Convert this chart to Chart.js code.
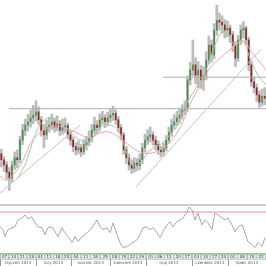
<!DOCTYPE html>
<html>
<head>
<meta charset="utf-8">
<script src="https://cdn.jsdelivr.net/npm/chart.js@4.4.0/dist/chart.umd.min.js"></script>
<style>
  html, body { margin: 0; padding: 0; background: #fff; }
</style>
</head>
<body>
<canvas id="wykres" width="266" height="266"></canvas>
<script>
'use strict';

// notowania dzienne (OHLC), kolejnosc od lewej
const openP = [4.125,4.116,4.108,4.097,4.088,4.108,4.119,4.116,4.146,4.161,
  4.169,4.174,4.180,4.184,4.189,4.177,4.161,4.154,4.165,4.169,
  4.174,4.166,4.171,4.161,4.165,4.168,4.154,4.146,4.136,4.131,
  4.134,4.128,4.139,4.143,4.149,4.161,4.169,4.165,4.177,4.180,
  4.174,4.180,4.184,4.187,4.177,4.165,4.154,4.131,4.119,4.108,
  4.103,4.111,4.107,4.116,4.134,4.146,4.151,4.154,4.146,4.139,
  4.131,4.128,4.134,4.146,4.158,4.169,4.174,4.180,4.184,4.192,
  4.195,4.238,4.253,4.261,4.245,4.253,4.238,4.245,4.268,4.291,
  4.276,4.314,4.329,4.326,4.322,4.314,4.317,4.307,4.291,4.271,
  4.299,4.314,4.317,4.299,4.261,4.235,4.226,4.215,4.204,4.213];
const highP = [4.132,4.121,4.113,4.104,4.114,4.128,4.131,4.152,4.170,4.178,
  4.185,4.192,4.199,4.206,4.197,4.182,4.170,4.176,4.181,4.186,
  4.180,4.183,4.176,4.178,4.180,4.172,4.160,4.151,4.142,4.145,
  4.140,4.147,4.152,4.160,4.170,4.181,4.176,4.186,4.190,4.185,
  4.189,4.193,4.198,4.192,4.182,4.170,4.158,4.136,4.125,4.116,
  4.119,4.118,4.125,4.141,4.155,4.162,4.166,4.159,4.152,4.145,
  4.137,4.142,4.153,4.166,4.178,4.185,4.190,4.194,4.200,4.206,
  4.244,4.265,4.299,4.272,4.266,4.260,4.258,4.281,4.305,4.299,
  4.324,4.352,4.340,4.336,4.330,4.328,4.322,4.312,4.296,4.306,
  4.322,4.327,4.320,4.303,4.266,4.243,4.232,4.221,4.224,4.226];
const lowP = [4.105,4.098,4.086,4.069,4.082,4.101,4.104,4.111,4.139,4.153,
  4.160,4.166,4.171,4.175,4.170,4.152,4.134,4.147,4.158,4.162,
  4.158,4.160,4.153,4.155,4.157,4.148,4.138,4.128,4.123,4.125,
  4.121,4.124,4.131,4.137,4.143,4.155,4.156,4.160,4.170,4.165,
  4.168,4.173,4.176,4.170,4.158,4.146,4.124,4.110,4.100,4.095,
  4.097,4.099,4.101,4.110,4.128,4.139,4.143,4.138,4.131,4.124,
  4.120,4.122,4.129,4.141,4.152,4.163,4.168,4.172,4.178,4.185,
  4.190,4.230,4.244,4.232,4.226,4.225,4.222,4.238,4.262,4.265,
  4.270,4.306,4.314,4.309,4.302,4.304,4.295,4.281,4.258,4.266,
  4.292,4.302,4.292,4.252,4.228,4.218,4.205,4.196,4.198,4.200];
const closeP = [4.116,4.108,4.097,4.088,4.108,4.119,4.116,4.146,4.161,4.169,
  4.174,4.180,4.184,4.189,4.177,4.161,4.154,4.165,4.169,4.174,
  4.166,4.171,4.161,4.165,4.168,4.154,4.146,4.136,4.131,4.134,
  4.128,4.139,4.143,4.149,4.161,4.169,4.165,4.177,4.180,4.174,
  4.180,4.184,4.187,4.177,4.165,4.154,4.131,4.119,4.108,4.103,
  4.111,4.107,4.116,4.134,4.146,4.151,4.154,4.146,4.139,4.131,
  4.128,4.134,4.146,4.158,4.169,4.174,4.180,4.184,4.192,4.195,
  4.238,4.253,4.261,4.245,4.253,4.238,4.245,4.268,4.291,4.276,
  4.314,4.329,4.326,4.322,4.314,4.317,4.307,4.291,4.271,4.299,
  4.314,4.317,4.299,4.261,4.235,4.226,4.215,4.204,4.213,4.210];

// srednie kroczace (x = numer sesji)
const maFastX = [6.8,9.4,11.3,13.2,15.0,16.9,18.8,20.7,22.6,26.3,30.1,33.1,35.7,37.6,41.4,44.4,47.0,49.6,52.6,56.4,60.2,63.9,66.9,69.9,73.3,77.1,80.8,83.5,85.7,88.3,91.0,94.0,97.0,100];
const maFastY = [4.088,4.108,4.131,4.154,4.169,4.177,4.180,4.177,4.171,4.158,4.146,4.143,4.154,4.165,4.169,4.161,4.134,4.108,4.111,4.131,4.139,4.154,4.169,4.200,4.223,4.250,4.291,4.311,4.307,4.291,4.299,4.271,4.245,4.230];
const maSlowX = [0,2.6,7.5,12.4,17.7,22.6,28.9,33.8,37.6,41.4,45.1,48.9,52.6,56.4,60.2,63.9,67.7,71.4,75.2,78.9,82.7,86.5,90.2,92.1,94.0,97.7,100];
const maSlowY = [4.091,4.085,4.107,4.146,4.164,4.167,4.157,4.149,4.157,4.158,4.149,4.137,4.128,4.126,4.131,4.143,4.165,4.200,4.230,4.256,4.271,4.284,4.296,4.296,4.284,4.265,4.253];

// linie trendu i poziomy
const trendUpA = [[0, 4.065], [30.1, 4.169]];
const trendUpB = [[51.1, 4.074], [98.1, 4.285]];
const levelPrice = [4.194, 4.242];
const levelFrom = [3.4, 61.3];

// oscylator (RSI)
const oscX = [0,1.1,1.9,3.0,4.5,5.6,6.8,8.3,9.4,10.5,12.0,13.2,14.3,15.8,16.9,18.0,19.5,20.7,21.8,23.3,24.4,25.6,27.1,28.2,29.3,30.8,32.0,33.1,34.6,35.7,36.5,37.6,38.7,40.2,41.4,42.5,44.0,45.1,46.2,47.7,48.9,50.0,51.5,52.6,53.8,55.3,56.4,57.5,59.0,60.2,61.3,62.8,63.9,65.0,66.5,67.7,68.8,70.3,71.1,72.2,73.3,74.4,75.9,77.1,78.2,79.7,80.8,82.0,83.5,84.6,85.7,87.2,88.3,89.5,91.0,92.1,93.2,94.7,95.9,97.0,98.5,99.6];
const oscY = [56.0,52.9,46.2,52.9,54.8,55.7,62.4,64.3,67.1,63.3,65.2,59.5,55.7,54.8,48.1,54.8,55.7,51.0,46.2,54.8,50.0,46.2,40.5,46.2,41.4,46.2,48.1,51.0,54.8,59.5,62.4,55.7,52.9,54.8,50.0,59.5,48.1,40.5,35.7,36.7,38.6,40.5,43.3,48.1,54.8,55.7,52.9,54.8,50.0,45.2,51.0,57.6,60.5,55.7,60.5,62.4,64.3,70.0,74.8,71.9,62.4,69.0,57.6,62.4,59.5,52.9,69.0,67.1,64.3,62.4,64.3,57.6,51.0,55.7,57.6,50.0,41.4,38.6,35.7,40.5,36.7,45.2];
const oscLevels = [70, 30];

// os czasu
const dayStart = [0,3.4,6.8,10.1, 13.5,16.8,20.1,23.4, 26.7,30.4,34.0,37.7, 41.4,44.8,48.2,51.5, 54.9,58.4,61.8,65.3,68.7, 72.2,75.6,78.9,82.3, 85.7,89.3,92.9,96.4];
const dayLabels = ['07','14','21','28', '04','11','18','25', '04','11','18','25', '08','15','22','29', '01','06','13','20','27', '03','10','17','24', '01','08','15','22'];
const monthStart = [0, 13.5, 26.7, 41.4, 54.9, 72.2, 85.7];
const monthLabels = ['styczeń 2013','luty 2013','marzec 2013','kwiecień 2013','maj 2013','czerwiec 2013','lipiec 2013'];

const wicks = lowP.map((l, i) => ({ x: i + 0.5, y: [l, highP[i]] }));
const bodies = openP.map((o, i) => ({ x: i + 0.5, y: [o, closeP[i]] }));
const bodyColors = openP.map((o, i) => closeP[i] >= o ? '#4f8a4f' : '#8e2525');
const pts = (xs, ys) => xs.map((x, i) => ({ x: x, y: ys[i] }));
const seg = (a) => a.map(p => ({ x: p[0], y: p[1] }));

const line = (data, color, axis, extra) => Object.assign({
    type: 'line', data: data, borderColor: color, borderWidth: 1,
    pointRadius: 0, fill: false, yAxisID: axis, order: 0
}, extra || {});

const datasets = [
    line(pts(maSlowX, maSlowY), '#f2a5a5', 'y', { tension: 0.4 }),
    line(pts(maFastX, maFastY), '#9fcc9f', 'y', { tension: 0.4 }),
    line(seg(trendUpA), '#c4c4c4', 'y'),
    line(seg(trendUpB), '#c4c4c4', 'y'),
    line(pts(oscX, oscY), '#a6a6a6', 'yo'),
    line([{ x: 0, y: oscLevels[0] }, { x: 100, y: oscLevels[0] }], '#ec8a8a', 'yo'),
    line([{ x: 0, y: oscLevels[1] }, { x: 100, y: oscLevels[1] }], '#94c894', 'yo')
];
levelPrice.forEach((p, i) => {
    datasets.push(line([{ x: levelFrom[i], y: p }, { x: 100, y: p }], '#b0b0b0', 'y'));
});
datasets.push({
    type: 'bar', data: bodies, backgroundColor: bodyColors, yAxisID: 'y',
    barThickness: 1, grouped: false, order: 1
});
datasets.push({
    type: 'bar', data: wicks, backgroundColor: '#bdbdbd', yAxisID: 'y',
    barThickness: 2, grouped: false, order: 2
});

const panels = {
    id: 'panels',
    beforeDatasetsDraw(chart) {
        const ctx = chart.ctx;
        const yo = chart.scales.yo;
        const sep = yo.getPixelForValue(77);
        ctx.save();
        ctx.fillStyle = '#cdcdcd';
        ctx.fillRect(0, Math.round(sep) - 1, chart.width, 2);
        ctx.restore();
    },
    afterDraw(chart) {
        const ctx = chart.ctx;
        const xs = chart.scales.x;
        const top = chart.chartArea.bottom;
        const mid = top + 5.5;
        const bottom = chart.height;
        ctx.save();
        ctx.textAlign = 'center';
        ctx.textBaseline = 'middle';
        ctx.font = '4px "DejaVu Sans", sans-serif';
        dayStart.forEach((s, i) => {
            const x0 = xs.getPixelForValue(s);
            const x1 = xs.getPixelForValue(i < dayStart.length - 1 ? dayStart[i + 1] : xs.max);
            ctx.fillStyle = '#eaf2ea';
            ctx.fillRect(x0, top, x1 - x0, mid - top);
            ctx.strokeStyle = '#9fb3a8';
            ctx.lineWidth = 0.7;
            ctx.strokeRect(x0 + 0.35, top + 0.35, x1 - x0 - 0.7, mid - top - 0.7);
            ctx.fillStyle = '#333';
            ctx.fillText(dayLabels[i], (x0 + x1) / 2, (top + mid) / 2 + 0.3);
        });
        ctx.font = '4px "DejaVu Sans", sans-serif';
        monthStart.forEach((s, i) => {
            const x0 = xs.getPixelForValue(s);
            const x1 = xs.getPixelForValue(i < monthStart.length - 1 ? monthStart[i + 1] : xs.max);
            ctx.strokeStyle = '#9a9a9a';
            ctx.lineWidth = 1;
            ctx.beginPath();
            ctx.moveTo(Math.round(x0) + 0.5, mid);
            ctx.lineTo(Math.round(x0) + 0.5, bottom);
            ctx.stroke();
            ctx.fillStyle = '#555';
            ctx.fillText(monthLabels[i], (x0 + x1) / 2, (mid + bottom) / 2 + 0.3);
        });
        ctx.restore();
    }
};

new Chart(document.getElementById('wykres'), {
    data: { datasets: datasets },
    options: {
        responsive: false,
        devicePixelRatio: 1,
        animation: false,
        layout: { padding: { left: 0, right: 0, top: 0, bottom: 12 } },
        plugins: { legend: { display: false }, tooltip: { enabled: false } },
        scales: {
            x: { type: 'linear', min: 0, max: 100, display: false, offset: false },
            y: { min: 3.972, max: 4.36, display: false },
            yo: { min: 29.5, max: 274.3, display: false }
        }
    },
    plugins: [panels]
});
</script>
</body>
</html>
